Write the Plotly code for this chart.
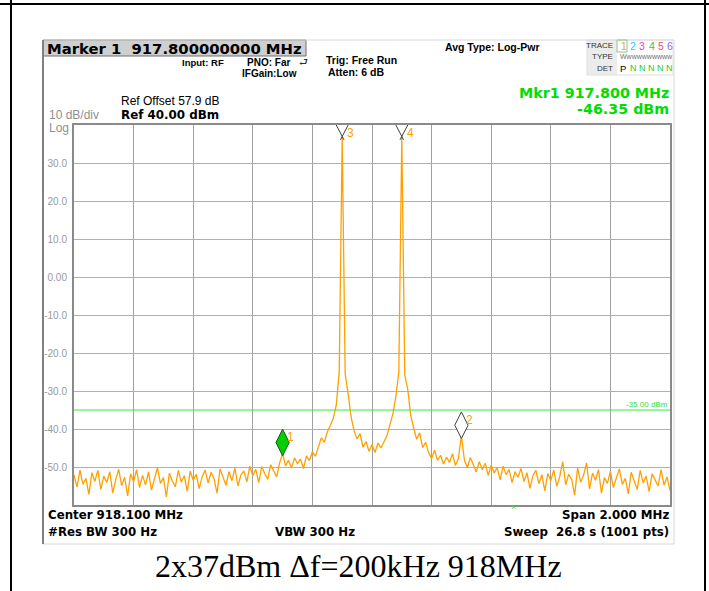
import numpy as np
import plotly.graph_objects as go

# ---------------- data ----------------
START_MHZ = 917.1
STOP_MHZ = 919.1
trace_dbm = [
    -52.1, -55.3, -50.8, -54.6, -53.0, -57.2, -51.5, -53.8, -50.9, -55.9,
    -52.4, -54.1, -51.2, -56.8, -53.3, -50.6, -54.9, -52.7, -57.6, -51.8,
    -53.9, -50.7, -55.4, -52.2, -54.7, -51.3, -56.1, -53.4, -50.2, -54.3,
    -52.8, -57.9, -51.6, -53.7, -55.2, -50.9, -54.0, -52.3, -56.4, -51.1,
    -53.5, -51.9, -55.7, -52.6, -50.8, -54.2, -51.4, -53.1, -56.9, -50.5,
    -52.9, -54.8, -51.2, -53.6, -50.3, -55.0, -52.1, -51.0, -53.9, -49.8,
    -52.3, -50.6, -54.1, -49.9, -51.7, -53.2, -49.4, -50.8, -52.6, -48.9,
    -46.4, -49.7, -48.2, -50.3, -47.6, -49.1, -47.9, -50.4, -47.1, -48.3,
    -46.0, -47.2, -44.6, -42.3, -43.5, -40.8, -39.1, -37.2, -33.8, -25.0,
    36.8, -25.5, -30.8, -36.9, -40.5, -42.6, -41.2, -44.8, -43.3, -45.9,
    -44.1, -46.2, -43.7, -45.0, -43.4, -41.8, -38.9, -36.0, -31.5, -25.0,
    36.8, -25.8, -29.6, -36.4, -39.8, -42.7, -41.0, -44.9, -43.5, -46.2,
    -47.8, -45.6, -48.3, -46.9, -49.2, -47.4, -48.8, -46.5, -49.6, -47.7,
    -41.8, -48.1, -50.2, -47.5, -49.4, -51.3, -48.6, -50.7, -49.0, -52.2,
    -49.5, -51.6, -50.1, -53.4, -49.8, -52.0, -50.6, -54.1, -51.2, -52.7,
    -50.4, -53.8, -51.5, -55.6, -52.3, -50.9, -54.4, -52.0, -56.3, -51.7,
    -53.6, -50.8, -55.1, -52.5, -48.6, -54.7, -51.9, -53.2, -57.4, -50.3,
    -54.0, -52.2, -48.9, -55.8, -51.6, -53.5, -50.7, -56.9, -52.8, -54.3,
    -51.1, -55.4, -52.9, -50.5, -54.6, -53.0, -57.1, -51.4, -53.7, -55.9,
    -50.9, -54.2, -52.4, -56.5, -51.8, -53.3, -55.0, -50.7, -54.8, -52.6,
    -56.2,
]
marker_ids = ["1", "2", "3", "4"]
marker_freqs = [917.8, 918.4, 918.0, 918.2]
marker_levels = [-46.35, -41.8, 36.8, 36.8]
display_line_dbm = -35.0
y_ticks = [30, 20, 10, 0, -10, -20, -30, -40, -50]
y_tick_labels = ["30.0", "20.0", "10.0", "0.00", "-10.0", "-20.0", "-30.0", "-40.0", "-50.0"]
REF_DBM = 40.0
BOTTOM_DBM = -60.0

freqs = np.linspace(START_MHZ, STOP_MHZ, len(trace_dbm))

# ---------------- layout helpers ----------------
W, H = 709, 591
def px(x): return x / W
def py(y): return 1 - y / H

FONT = "Arial, Liberation Sans, sans-serif"
WIDE = "DejaVu Sans, Verdana, sans-serif"
ORANGE = "#FFA000"
GREEN = "#00DD00"

fig = go.Figure()

fig.add_trace(go.Scatter(x=freqs, y=trace_dbm, mode="lines",
                         line=dict(color=ORANGE, width=1.3), hoverinfo="skip"))

# display line
fig.add_trace(go.Scatter(x=[START_MHZ, STOP_MHZ], y=[display_line_dbm] * 2, mode="lines",
                         line=dict(color="#33EE33", width=1), hoverinfo="skip"))

# marker 1 (green diamond) & marker 2 (white diamond)
fig.add_trace(go.Scatter(x=[marker_freqs[0]], y=[marker_levels[0] + 2.8], mode="markers",
                         marker=dict(symbol="diamond-tall", size=19, color="#00D000",
                                     line=dict(color="#205020", width=1)),
                         cliponaxis=False, hoverinfo="skip"))
fig.add_trace(go.Scatter(x=[marker_freqs[1]], y=[marker_levels[1] + 2.8], mode="markers",
                         marker=dict(symbol="diamond-tall", size=19, color="white",
                                     line=dict(color="#404040", width=1)),
                         cliponaxis=False, hoverinfo="skip"))

shapes = []
# markers 3 and 4 (clipped diamonds at top)
for f in marker_freqs[2:]:
    shapes.append(dict(type="line", xref="x", yref="y", x0=f - 0.02, y0=REF_DBM, x1=f + 0.006,
                       y1=REF_DBM - 3.9, line=dict(color="#404040", width=1)))
    shapes.append(dict(type="line", xref="x", yref="y", x0=f + 0.02, y0=REF_DBM, x1=f - 0.006,
                       y1=REF_DBM - 3.9, line=dict(color="#404040", width=1)))

# outer black page border
shapes += [
    dict(type="line", xref="paper", yref="paper", x0=px(0), x1=px(709), y0=py(4), y1=py(4),
         line=dict(color="black", width=2)),
    dict(type="line", xref="paper", yref="paper", x0=px(11), x1=px(11), y0=py(0), y1=py(591),
         line=dict(color="black", width=2)),
    dict(type="line", xref="paper", yref="paper", x0=px(705), x1=px(705), y0=py(0), y1=py(591),
         line=dict(color="black", width=2)),
]
# screenshot frame
shapes += [
    dict(type="rect", xref="paper", yref="paper", x0=px(43), x1=px(674), y0=py(544), y1=py(40),
         line=dict(color="#d8d8d8", width=1)),
    dict(type="line", xref="paper", yref="paper", x0=px(43), x1=px(43), y0=py(544), y1=py(40),
         line=dict(color="#808080", width=2)),
    # marker header box
    dict(type="rect", xref="paper", yref="paper", x0=px(43), x1=px(306), y0=py(56), y1=py(40),
         fillcolor="#cfcfcf", line=dict(color="#707070", width=1), layer="below"),
    # trace box
    dict(type="rect", xref="paper", yref="paper", x0=px(587), x1=px(617), y0=py(75), y1=py(40),
         fillcolor="#ececec", line=dict(width=0), layer="below"),
    dict(type="rect", xref="paper", yref="paper", x0=px(587), x1=px(673), y0=py(75), y1=py(40),
         fillcolor="rgba(0,0,0,0)", line=dict(color="#e0e0e0", width=1)),
    dict(type="rect", xref="paper", yref="paper", x0=px(617), x1=px(627), y0=py(52), y1=py(40),
         fillcolor="rgba(0,0,0,0)", line=dict(color="#80d080", width=1)),
]

annotations = []
def ann(text, x, y, size, color="black", bold=False, anchor="left", family=FONT):
    if bold:
        text = "<b>" + text + "</b>"
    annotations.append(dict(text=text, x=px(x), y=py(y), xref="paper", yref="paper",
                            xanchor=anchor, yanchor="middle", showarrow=False,
                            font=dict(size=size, color=color, family=family)))

ann("Marker 1  917.800000000 MHz", 45, 48, 14.8, bold=True, family=WIDE)
ann("Input: RF", 180, 62, 9.5, bold=True)
ann("PNO: Far", 245, 62, 10, bold=True)
ann("\u2b90", 297, 63, 10, color="#303030")
ann("IFGain:Low", 240, 73, 10, bold=True)
ann("Trig: Free Run", 324, 60, 10.5, bold=True)
ann("Atten: 6 dB", 326, 72, 10.5, bold=True)
ann("Avg Type: Log-Pwr", 443, 47, 10.5, bold=True)
ann("TRACE", 615, 46, 8, color="#333333", anchor="right")
ann("TYPE", 615, 57, 8, color="#333333", anchor="right")
ann("DET", 615, 68, 8, color="#333333", anchor="right")
trace_colors = [ORANGE, "#22CCFF", "#FF33CC", "#22CC66", "#FF4477", "#8866FF"]
for k, c in enumerate(trace_colors):
    ann(str(k + 1), 619 + k * 9.2, 46, 10.5, color=c)
ann("Wwwwwwwwww", 618, 57, 7, color="#707070")
ann("P", 618, 68, 9.5, color="black")
ann("N N N N N", 628, 68, 9, color="#22CC22")
ann("Mkr1 917.800 MHz", 671, 92.5, 14.3, color=GREEN, bold=True, anchor="right", family=WIDE)
ann("-46.35 dBm", 671, 109.5, 14.3, color=GREEN, bold=True, anchor="right", family=WIDE)
ann("Ref Offset 57.9 dB", 119, 101, 12)
ann("Ref 40.00 dBm", 119, 115, 11.9, bold=True, family=WIDE)
ann("10 dB/div", 47, 115.5, 12, color="#909090")
ann("Log", 47, 127.5, 12, color="#909090")
ann("-35.00 dBm", 670, 405, 8, color="#33DD33", anchor="right")
ann("Center 918.100 MHz", 46, 515, 11.8, bold=True, family=WIDE)
ann("#Res BW 300 Hz", 46, 532, 11.8, bold=True, family=WIDE)
ann("VBW 300 Hz", 273, 532, 11.8, bold=True, family=WIDE)
ann("Span 2.000 MHz", 671, 515, 11.8, bold=True, anchor="right", family=WIDE)
ann("Sweep  26.8 s (1001 pts)", 671, 532, 11.8, bold=True, anchor="right", family=WIDE)
ann("\u00d7", 513, 507, 9, color="#33DD33", anchor="center")
ann("2x37dBm \u0394f=200kHz 918MHz", 358, 566, 32, anchor="center",
    family="Liberation Serif, Times New Roman, serif")

# marker number labels
for mid, f, lvl in zip(marker_ids, marker_freqs, marker_levels):
    if lvl > REF_DBM - 10:
        yv = REF_DBM - 2.2
    else:
        yv = lvl + 4.3
    annotations.append(dict(text=mid, x=f + 0.028, y=yv, xref="x", yref="y",
                            xanchor="center", yanchor="middle", showarrow=False,
                            font=dict(size=12, color=ORANGE, family=FONT)))

grid_x = list(np.linspace(START_MHZ, STOP_MHZ, 11))
fig.update_layout(
    width=W, height=H, margin=dict(l=0, r=0, t=0, b=0),
    paper_bgcolor="white", plot_bgcolor="white", showlegend=False,
    shapes=shapes, annotations=annotations,
    xaxis=dict(domain=[px(74), px(670)], range=[START_MHZ, STOP_MHZ], tickvals=grid_x,
               showticklabels=False, ticks="", showgrid=True, gridcolor="#a0a0a0", gridwidth=1,
               zeroline=False, showline=True, mirror=True, linecolor="#8a8a8a", linewidth=2),
    yaxis=dict(domain=[py(505), py(125)], range=[BOTTOM_DBM, REF_DBM], tickvals=y_ticks,
               ticktext=y_tick_labels, tickfont=dict(size=10, color="#999999", family=FONT),
               ticks="", showgrid=True, gridcolor="#b0b0b0", gridwidth=1, zeroline=False,
               showline=True, mirror=True, linecolor="#8a8a8a", linewidth=2,
               ticklabelstandoff=3),
)

fig.write_html("out.html", config={"displayModeBar": False},
               post_script="document.body.style.margin='0';document.body.style.overflow='hidden';")
